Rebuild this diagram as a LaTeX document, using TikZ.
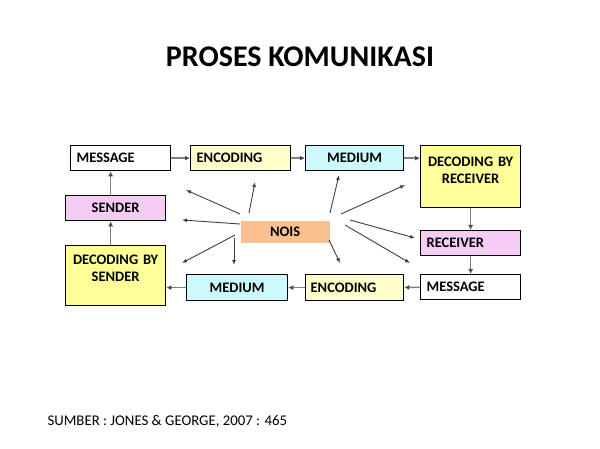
\documentclass[tikz,border=0pt]{standalone}
\usepackage{fontspec}
\setmainfont{Carlito}
\usetikzlibrary{arrows.meta}
\definecolor{pinkbox}{RGB}{244,204,244}
\definecolor{paleyellow}{RGB}{255,255,204}
\definecolor{paleblue}{RGB}{204,250,252}
\definecolor{yellowbox}{RGB}{255,255,153}
\definecolor{orangebox}{RGB}{250,192,144}
\tikzset{
  box/.style = {draw,line width=1.3pt,anchor=north west,minimum width=100pt,
    minimum height=25pt,inner sep=0pt,font=\bfseries\fontsize{14.5}{17}\selectfont},
  lbox/.style = {box,text width=88pt,align=left},
  cbox/.style = {box,text width=98pt,align=center},
  flow/.style = {draw=gray,line width=1.6pt,-{Latex[length=5pt,width=5pt,black!70]}},
  noise/.style = {draw=black!75,line width=0.9pt,-{Latex[length=5pt,width=4pt]}}
}
\begin{document}
\begin{tikzpicture}[x=1pt,y=-1pt]
  \useasboundingbox (0,0) rectangle (600,449);
  \fill[white] (0,0) rectangle (600,449);
  % title
  \node[font=\bfseries\fontsize{30}{34}\selectfont] (title) at (300,57) {PROSES KOMUNIKASI};
  % upper row
  \node[lbox] (msgA) at (70,145) {MESSAGE};
  \node[lbox,fill=paleyellow] (encA) at (190,145) {ENCODING};
  \node[cbox,fill=paleblue,minimum width=98pt] (medA) at (305,145) {MEDIUM};
  \node[cbox,fill=yellowbox,minimum height=62pt,text depth=30pt] (decR) at (420,145) {DECODING BY\\RECEIVER};
  % right column
  \node[lbox,fill=pinkbox] (recv) at (420,230) {RECEIVER};
  % lower row
  \node[lbox] (msgB) at (420,274) {MESSAGE};
  \node[lbox,fill=paleyellow,minimum width=98pt,minimum height=26pt] (encB) at (305,274) {ENCODING};
  \node[cbox,fill=paleblue,minimum width=101pt,minimum height=26pt] (medB) at (186,274) {MEDIUM};
  % left column
  \node[cbox,fill=yellowbox,minimum height=60pt,text depth=32pt] (decS) at (65,245) {DECODING BY\\SENDER};
  \node[cbox,fill=pinkbox] (sender) at (65,195) {SENDER};
  % noise
  \node[box,draw=none,fill=orangebox,minimum width=89pt,minimum height=22pt] (nois) at (240,220) {NOIS};
  % flow
  \draw[flow] (msgA) -- (encA);
  \draw[flow] (encA) -- (medA);
  \draw[flow] (medA.east) -- (medA.east -| decR.west);
  \draw[flow] (decR) -- (recv);
  \draw[flow] (recv) -- (msgB);
  \draw[flow] (msgB) -- (encB);
  \draw[flow] (encB) -- (medB);
  \draw[flow] (medB.west) -- (medB.west -| decS.east);
  \draw[flow] ([xshift=-5pt]decS.north) -- ([xshift=-5pt]sender.south);
  \draw[flow] ([xshift=-5pt]sender.north) -- ([xshift=-5pt]sender.north |- msgA.south);
  % noise arrows
  \foreach \sx/\sy/\ex/\ey in {240/214/186/190, 249/213/255/182, 240/224/182/220,
      235/235/182/263, 234/238/234/265, 330/213/339/175, 341/214/405/185,
      350/220/415/238, 345/225/410/263, 329/240/340/263}
    { \draw[noise] (\sx,\sy) -- (\ex,\ey); };
  % source
  \node[anchor=west,font=\fontsize{14.8}{17}\selectfont] (source) at (44,421) {SUMBER : JONES \& GEORGE, 2007 : 465};
\end{tikzpicture}
\end{document}
